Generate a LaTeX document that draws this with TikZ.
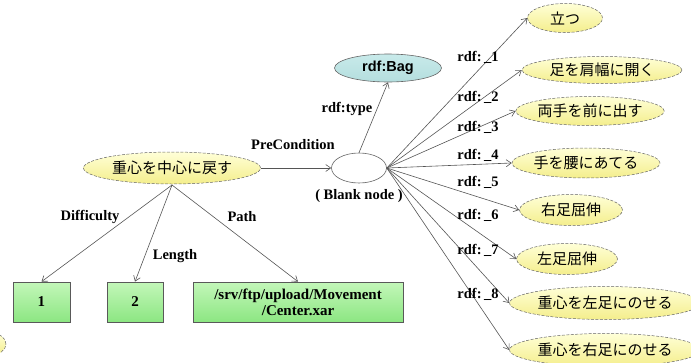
\documentclass[tikz,border=0pt]{standalone}
\usepackage{fontspec}
\setmainfont{Liberation Serif}
\newfontfamily\jp{Noto Sans CJK JP}
\newfontfamily\arialf{Liberation Sans}
\usetikzlibrary{arrows.meta,shapes.geometric}
\definecolor{ytop}{RGB}{255,255,215}
\definecolor{ybot}{RGB}{244,238,140}
\definecolor{gtop}{RGB}{195,247,185}
\definecolor{gbot}{RGB}{140,230,130}
\definecolor{ttop}{RGB}{200,234,234}
\definecolor{tmid}{RGB}{232,247,247}
\definecolor{tbot}{RGB}{180,222,222}
\definecolor{edgec}{RGB}{85,85,85}
\tikzset{
  jpnode/.style={ellipse, draw=gray!80!black, dash pattern=on 3pt off 1.5pt, line width=0.5pt,
    top color=ytop, bottom color=ybot, inner sep=0pt,
    font=\jp\fontsize{15}{15}\selectfont},
  valbox/.style={rectangle, draw=gray!70!black, line width=0.7pt,
    top color=gtop, bottom color=gbot, inner sep=0pt, minimum height=40pt,
    font=\bfseries\fontsize{15}{16}\selectfont, align=center},
  lbl/.style={font=\bfseries\fontsize{14.5}{14.5}\selectfont, inner sep=0pt},
  conn/.style={draw=edgec, line width=0.6pt, -{Straight Barb[length=5pt,width=7pt]}},
}
\begin{document}
\begin{tikzpicture}[x=1pt,y=-1pt]
\useasboundingbox (0,0) rectangle (691,362);
\clip (0,0) rectangle (691,362);
% main node
\node[jpnode, minimum width=177pt, minimum height=32pt] (main) at (172,168) {重心を中心に戻す};
% blank node
\node[ellipse, draw=gray!80!black, fill=white, line width=0.6pt, minimum width=55pt, minimum height=30pt, inner sep=0pt] (blank) at (359,168) {};
\node[lbl] (blanklbl) at (359,196) {( Blank node )};
% rdf:Bag
\node[ellipse, draw=gray!80!black, line width=0.6pt, top color=ttop, middle color=tmid, bottom color=tbot, minimum width=107pt, minimum height=28pt, inner sep=0pt, font=\arialf\bfseries\fontsize{14.5}{14.5}\selectfont] (bag) at (388,68) {rdf:Bag};
% right nodes
\node[jpnode, minimum width=75pt, minimum height=29pt] (r1) at (565,18) {立つ};
\node[jpnode, minimum width=160pt, minimum height=27pt] (r2) at (602,70) {足を肩幅に開く};
\node[jpnode, minimum width=136pt, minimum height=29pt] (r3) at (590,111) {両手を前に出す};
\node[jpnode, minimum width=134pt, minimum height=30pt] (r4) at (586,163) {手を腰にあてる};
\node[jpnode, minimum width=103pt, minimum height=31pt] (r5) at (571,210) {右足屈伸};
\node[jpnode, minimum width=101pt, minimum height=31pt] (r6) at (567,259) {左足屈伸};
\node[jpnode, minimum width=177pt, minimum height=33pt] (r7) at (605,303) {重心を左足にのせる};
\node[jpnode, minimum width=177pt, minimum height=33pt] (r8) at (605,350) {重心を右足にのせる};
% partial node at bottom left
\node[jpnode, minimum width=30pt, minimum height=22pt] (frag) at (-9,344) {};
% value boxes
\node[valbox, minimum width=57pt] (v1) at (41.5,302) {1};
\node[valbox, minimum width=56pt] (v2) at (135,302) {2};
\node[valbox, minimum width=210pt] (v3) at (298,302) {/srv/ftp/upload/Movement\\/Center.xar};
% connectors
\coordinate (ms) at (172,185);
\draw[conn] (ms) -- (v1.north);
\draw[conn] (ms) -- (v2.north);
\draw[conn] (ms) -- (v3.north);
\draw[conn] (main.east) -- (blank.west);
\draw[conn] (blank.north) -- (bag.south);
\coordinate (be) at (blank.east);
\foreach \n in {r1,r2,r3,r4,r5,r6,r7,r8} {\draw[conn] (be) -- (\n.west);}
% labels
\node[lbl] (ldiff) at (90,217) {Difficulty};
\node[lbl] (llen) at (175,256) {Length};
\node[lbl] (lpath) at (242,217) {Path};
\node[lbl] (lpre) at (293,145) {PreCondition};
\node[lbl] (ltype) at (347,109) {rdf:type};
\node[lbl] (l1) at (478,57) {rdf:\,\_1};
\node[lbl] (l2) at (478,97) {rdf:\,\_2};
\node[lbl] (l3) at (478,127) {rdf:\,\_3};
\node[lbl] (l4) at (478,155) {rdf:\,\_4};
\node[lbl] (l5) at (478,182) {rdf:\,\_5};
\node[lbl] (l6) at (478,215) {rdf:\,\_6};
\node[lbl] (l7) at (478,250) {rdf:\,\_7};
\node[lbl] (l8) at (478,294) {rdf:\,\_8};
\end{tikzpicture}
\end{document}
